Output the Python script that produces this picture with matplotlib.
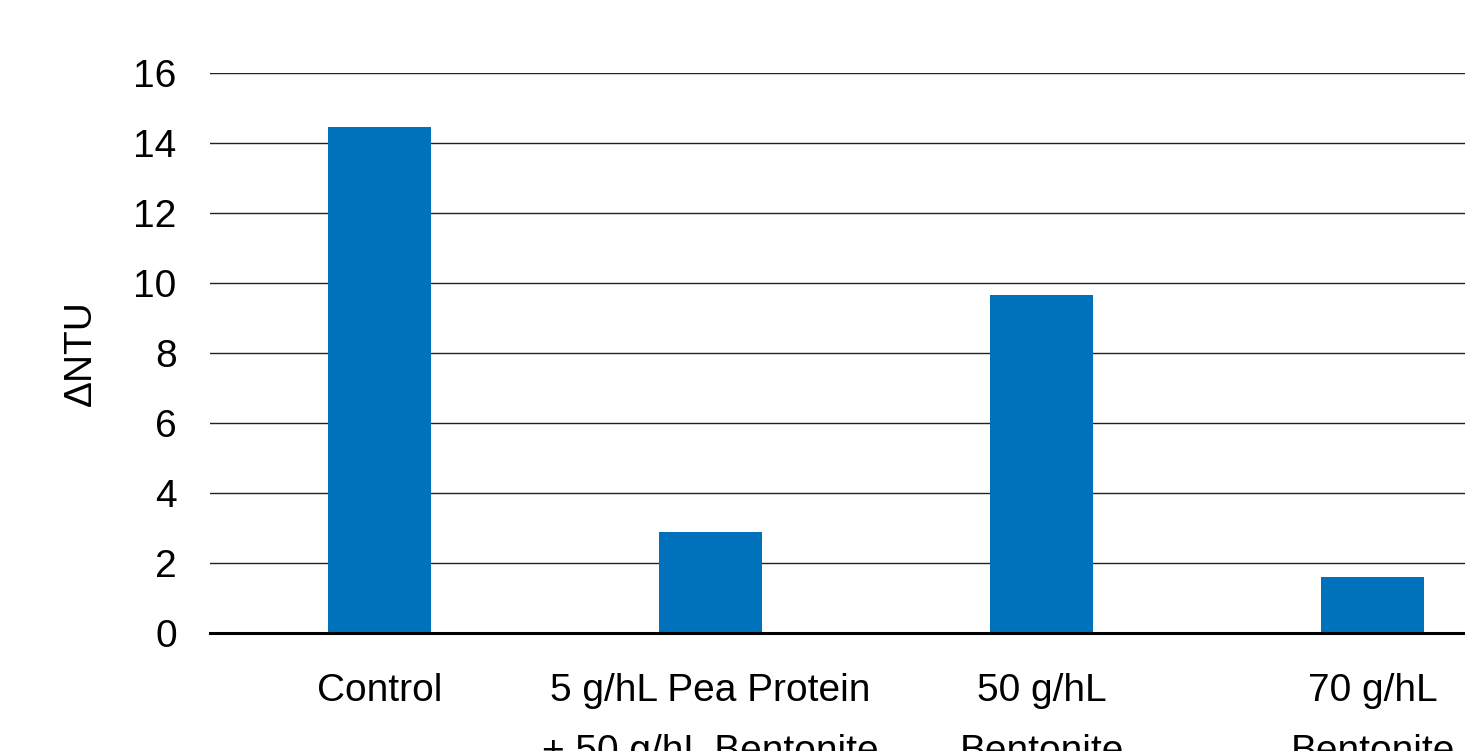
import matplotlib
matplotlib.use("Agg")
import matplotlib.pyplot as plt

categories = ["Control", "5 g/hL Pea Protein\n+ 50 g/hL Bentonite",
              "50 g/hL\nBentonite", "70 g/hL\nBentonite"]
delta_ntu = [14.45, 2.9, 9.65, 1.6]
y_ticks = [0, 2, 4, 6, 8, 10, 12, 14, 16]

plt.rcParams['font.family'] = ['Liberation Sans', 'DejaVu Sans']

fig = plt.figure(figsize=(14.65, 7.51), dpi=100)
ax = fig.add_axes([210/1465, 1-633/751, 1328/1465, 560/751])

x = range(len(categories))
ax.bar(x, delta_ntu, width=0.31, color="#0072BC", zorder=2)

ax.set_ylim(0, 16)
ax.set_xlim(-0.512, len(categories) - 0.5)
ax.set_yticks(y_ticks)
ax.set_xticks(list(x))
ax.set_xticklabels(categories, fontsize=28, linespacing=1.9)
ax.tick_params(axis="y", labelsize=28, length=0, pad=24)
ax.tick_params(axis="x", length=0, pad=29)
ax.grid(axis="y", color="#222222", linewidth=1.0, zorder=0)
for s in ["top", "right", "left"]:
    ax.spines[s].set_visible(False)
ax.spines["bottom"].set_linewidth(2.2)
ax.spines["bottom"].set_zorder(3)
ax.set_ylabel("ΔNTU", fontsize=28, labelpad=25)

fig.savefig("out.png", dpi=100)
